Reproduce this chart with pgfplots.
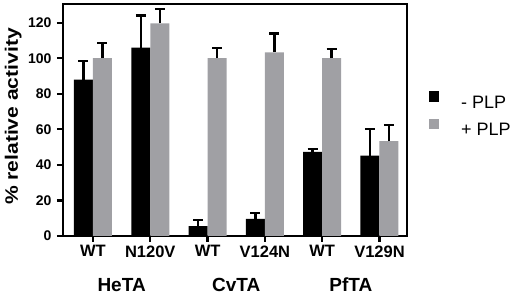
\documentclass[border=0pt]{standalone}
\usepackage{fontspec}
\setmainfont{Liberation Sans}
\usepackage{pgfplots}
\pgfplotsset{compat=1.18}
\definecolor{pgrey}{RGB}{160,160,164}
\begin{document}
\begin{tikzpicture}
\useasboundingbox (-63pt,-58pt) rectangle (454pt,236pt);
\begin{axis}[
  scale only axis, width=344pt, height=232pt,
  ybar=0pt, bar width=19pt,
  xmin=-0.523, xmax=5.48, ymin=0, ymax=130.5,
  xtick={0,...,5}, xticklabels={WT,N120V,WT,V124N,WT,V129N},
  ytick={0,20,...,120},
  xtick pos=bottom, ytick pos=left, tick align=outside,
  major tick length=6pt,
  axis line style={line width=2.3pt},
  every tick/.style={black, line width=2.3pt},
  /pgf/number format/assume math mode=true,
  yticklabel style={font=\fontsize{14}{14}\selectfont\bfseries, xshift=-2pt},
  xticklabel style={font=\fontsize{16.5}{16.5}\selectfont\bfseries},
  ylabel={\scalebox{1.17}[1]{\% relative activity}},
  ylabel style={font=\fontsize{18}{18}\selectfont\bfseries, at={(axis description cs:-0.145,0.515)}, anchor=center},
  legend style={draw=none, fill=none, inner sep=0pt, at={(axis description cs:1.064,0.525)}, anchor=west,
    nodes={inner sep=0pt, font=\fontsize{18}{18}\selectfont}, row sep=9pt},
  legend cell align=left,
  legend image code/.code={\fill[#1] (0pt,1pt) rectangle (10pt,11.5pt); \path (32pt,0pt);},
  error bars/y dir=plus, error bars/y explicit,
  error bars/error mark=|,
  error bars/error bar style={draw=black, line width=2.4pt},
  error bars/error mark options={draw=black, line width=2.4pt, mark size=5pt},
  clip=false,
]
\addplot[fill=black, draw=none]
  coordinates {(0,88) +- (0,10.4) (1,106) +- (0,18) (2,5.5) +- (0,3.4)
               (3,9.7) +- (0,3.4) (4,47.3) +- (0,1.8) (5,45.2) +- (0,15)};
\addlegendentry{- PLP}
\addplot[fill=pgrey, draw=none]
  coordinates {(0,100) +- (0,8.4) (1,119.6) +- (0,8) (2,100) +- (0,5.9)
               (3,103.3) +- (0,10.7) (4,100) +- (0,5.2) (5,53.4) +- (0,8.9)};
\addlegendentry{+ PLP}
\node[font=\fontsize{19}{19}\selectfont\bfseries, anchor=base, yshift=-55.5pt] at (axis cs:0.5,0) {HeTA};
\node[font=\fontsize{19}{19}\selectfont\bfseries, anchor=base, yshift=-55.5pt] at (axis cs:2.5,0) {CvTA};
\node[font=\fontsize{19}{19}\selectfont\bfseries, anchor=base, yshift=-55.5pt] at (axis cs:4.5,0) {PfTA};
\end{axis}
\end{tikzpicture}
\end{document}
